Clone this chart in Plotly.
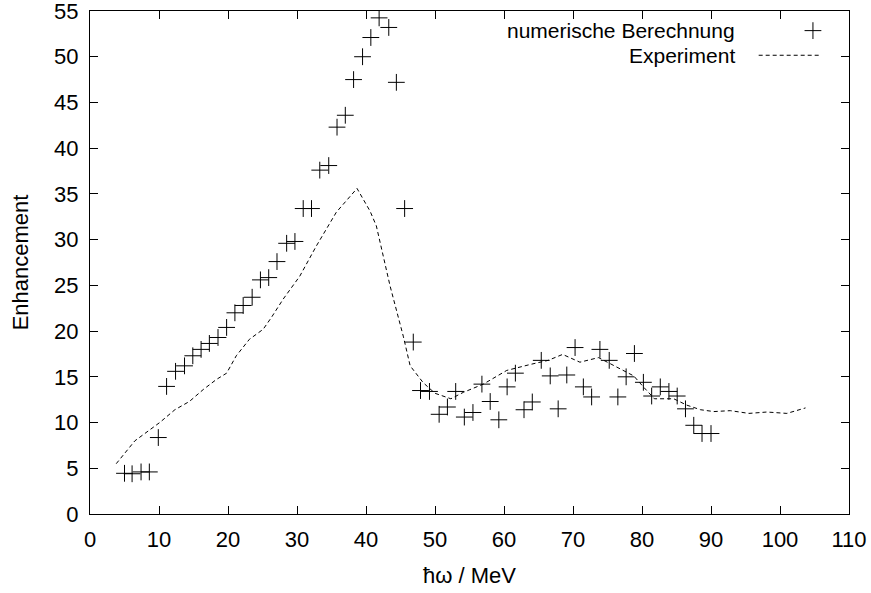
import plotly.graph_objects as go

# Numerical calculation (crosses)
calc_energy = [5.0, 6.1, 7.4, 8.6, 9.9, 11.1, 12.4, 13.7, 14.9, 16.1,
               17.3, 18.55, 19.8, 21.0, 22.2, 23.5, 24.7, 25.9, 27.1, 28.5,
               29.7, 30.9, 32.1, 33.3, 34.6, 35.8, 37.0, 38.2, 39.5, 40.7,
               41.9, 43.3, 44.4, 45.6, 46.85, 47.9, 49.2, 50.6, 51.8, 53.0,
               54.25, 55.5, 56.8, 58.0, 59.25, 60.45, 61.65, 62.9, 64.1, 65.4,
               66.7, 67.85, 69.1, 70.3, 71.5, 72.7, 73.9, 75.25, 76.5, 77.7,
               78.9, 80.2, 81.4, 82.65, 83.9, 85.1, 86.3, 87.5, 88.7, 90.0]
calc_enh = [4.45, 4.4, 4.6, 4.6, 8.36, 13.95, 15.6, 16.2, 17.3, 18.0,
            18.65, 19.3, 20.4, 22.0, 22.8, 23.7, 25.6, 25.85, 27.6, 29.6,
            29.8, 33.4, 33.4, 37.6, 38.1, 42.3, 43.6, 47.5, 50.0, 52.1,
            54.25, 53.2, 47.2, 33.4, 18.8, 13.5, 13.4, 10.9, 11.7, 13.4,
            10.6, 11.1, 14.2, 12.3, 10.3, 13.9, 15.4, 11.4, 12.25, 16.8,
            15.1, 11.5, 15.2, 18.2, 13.9, 12.8, 18.0, 16.8, 12.8, 15.0,
            17.55, 14.4, 12.9, 13.9, 13.4, 12.9, 11.5, 9.7, 8.8, 8.8]

# Experimental curve (dashed)
exp_energy = [3.8, 6.5, 10.1, 12.3, 14.4, 16.4, 18.3, 19.8, 21.2, 23.1,
              25.1, 26.3, 28.0, 30.4, 32.8, 35.7, 38.7, 40.6, 41.5, 43.5,
              45.4, 46.4, 48.3, 50.0, 52.3, 54.1, 57.0, 60.4, 63.8, 66.4,
              68.5, 71.0, 73.7, 76.6, 78.8, 80.2, 81.8, 84.6, 86.5, 88.5,
              90.4, 92.8, 95.5, 98.1, 101.0, 103.7]
exp_enh = [5.5, 8.0, 10.0, 11.4, 12.3, 13.6, 14.7, 15.4, 17.3, 19.1,
           20.2, 21.5, 23.5, 26.0, 29.3, 33.0, 35.6, 33.1, 31.5, 24.9,
           19.45, 16.2, 14.35, 13.2, 12.6, 13.3, 14.2, 15.7, 16.35, 16.8,
           17.45, 16.6, 17.1, 16.0, 15.1, 13.9, 12.6, 12.6, 11.9, 11.4,
           11.2, 11.3, 11.0, 11.15, 11.0, 11.6]

x_ticks = [0, 10, 20, 30, 40, 50, 60, 70, 80, 90, 100, 110]
y_ticks = [0, 5, 10, 15, 20, 25, 30, 35, 40, 45, 50, 55]

legend_labels = ["numerische Berechnung", "Experiment"]

FONT = "Liberation Sans, Arial, Helvetica, sans-serif"
FS = 22
KEY_FS = 21
DASH = "4px,3px"

fig = go.Figure()

fig.add_trace(go.Scatter(
    x=exp_energy, y=exp_enh, mode="lines",
    line=dict(color="black", width=1, dash=DASH),
    showlegend=False, hoverinfo="skip"))

fig.add_trace(go.Scatter(
    x=calc_energy, y=calc_enh, mode="markers",
    marker=dict(symbol="cross-thin", size=12, line=dict(color="black", width=1)),
    showlegend=False))

# gnuplot-style key: right-aligned labels with samples on the right
key_rows = [0.961, 0.912]
fig.add_trace(go.Scatter(
    x=[0.9525], y=[key_rows[0]], xaxis="x2", yaxis="y2", mode="markers",
    marker=dict(symbol="cross-thin", size=12, line=dict(color="black", width=1)),
    showlegend=False, hoverinfo="skip"))
fig.add_trace(go.Scatter(
    x=[0.881, 0.961], y=[key_rows[1], key_rows[1]], xaxis="x2", yaxis="y2",
    mode="lines", line=dict(color="black", width=1, dash=DASH),
    showlegend=False, hoverinfo="skip"))

for label, yk in zip(legend_labels, key_rows):
    fig.add_annotation(x=0.852, y=yk, xref="paper", yref="paper",
                       text=label, showarrow=False, xanchor="right",
                       yanchor="middle", font=dict(family=FONT, size=KEY_FS, color="black"))

axis_common = dict(
    showline=True, linecolor="black", linewidth=1, mirror="ticks",
    ticks="inside", ticklen=8, tickwidth=1, tickcolor="black",
    showgrid=False, zeroline=False, ticklabeloverflow="allow",
    automargin=False,
    tickfont=dict(family=FONT, size=FS, color="black"),
)

fig.update_layout(
    width=871, height=593,
    margin=dict(l=90, r=22, t=11, b=79),
    paper_bgcolor="white", plot_bgcolor="white",
    font=dict(family=FONT, size=FS, color="black"),
    xaxis=dict(range=[0, 110], tickvals=x_ticks, ticklabelstandoff=6,
               title=dict(text="ħω / MeV", standoff=16,
                          font=dict(family=FONT, size=FS)),
               **axis_common),
    yaxis=dict(range=[0, 55.0001], tickvals=y_ticks, ticklabelstandoff=6,
               title=dict(text="Enhancement", standoff=19,
                          font=dict(family=FONT, size=FS)),
               **axis_common),
    xaxis2=dict(range=[0, 1], overlaying="x", visible=False),
    yaxis2=dict(range=[0, 1], overlaying="y", visible=False),
)

fig.write_html("out.html")
